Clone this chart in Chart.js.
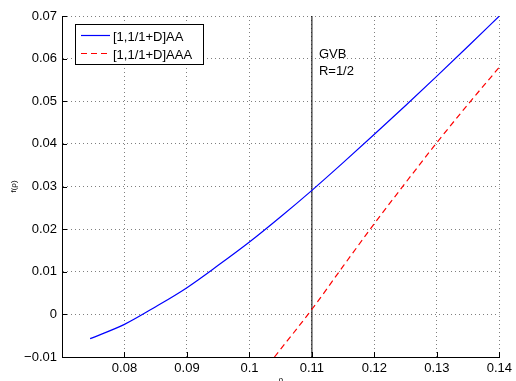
<!DOCTYPE html>
<html>
<head>
<meta charset="utf-8">
<script src="https://cdn.jsdelivr.net/npm/chart.js@4/dist/chart.umd.min.js"></script>
<style>
html,body{margin:0;padding:0;background:#fff;}
canvas{display:block;}
</style>
</head>
<body>
<canvas id="c" width="516" height="381"></canvas>
<script>
// ---- data ----
const seriesNames = ["[1,1/1+D]AA", "[1,1/1+D]AAA"];
const seriesColors = ["#0000ff", "#ff0000"];
const aaX = [0.0745, 0.08, 0.085, 0.09, 0.095, 0.10, 0.105, 0.11, 0.115, 0.12, 0.125, 0.13, 0.135, 0.14];
const aaY = [-0.0057, -0.00235, 0.0018, 0.00627, 0.0115, 0.01697, 0.0229, 0.0291, 0.0356, 0.04225, 0.0490, 0.0559, 0.0629, 0.0700];
const aaaX = [0.104, 0.11, 0.115, 0.12, 0.125, 0.13, 0.135, 0.14];
const aaaY = [-0.0100, 0.0012, 0.0113, 0.0213, 0.0309, 0.0403, 0.0493, 0.0580];
const gvbX = 0.11;
const gvbLabel = ["GVB", "R=1/2"];
const xTicks = [0.07, 0.08, 0.09, 0.10, 0.11, 0.12, 0.13, 0.14];
const yTicks = [-0.01, 0, 0.01, 0.02, 0.03, 0.04, 0.05, 0.06, 0.07];
const yTitle = "f(\u03C1)";
const xTitle = "\u03C1";

const FONT = "'Liberation Sans', Arial, Helvetica, sans-serif";
const pts = (xs, ys) => xs.map((x, i) => ({x: x, y: ys[i]}));
const fmt = v => Number(v.toFixed(2)).toString().replace('-', '\u2212');

const overlay = {
  id: 'overlay',
  afterDatasetsDraw(chart) {
    const ctx = chart.ctx, a = chart.chartArea;
    const xs = chart.scales.x, ys = chart.scales.y;
    ctx.save();
    ctx.setLineDash([]);
    // inward tick marks
    ctx.strokeStyle = '#000'; ctx.lineWidth = 1;
    ctx.beginPath();
    yTicks.forEach(v => { const y = Math.round(ys.getPixelForValue(v)) + 0.5; ctx.moveTo(a.left, y); ctx.lineTo(a.left + 5, y); });
    xTicks.forEach(v => { const x = Math.round(xs.getPixelForValue(v)) + 0.5; ctx.moveTo(x, a.bottom); ctx.lineTo(x, a.bottom - 5); });
    ctx.stroke();
    // GVB annotation
    ctx.fillStyle = '#000';
    ctx.font = '13px ' + FONT;
    ctx.textBaseline = 'alphabetic'; ctx.textAlign = 'left';
    const gx = xs.getPixelForValue(gvbX) + 7;
    ctx.fillText(gvbLabel[0], gx, 58);
    ctx.fillText(gvbLabel[1], gx, 75);
    // legend box
    const lx = 75.5, ly = 24.5, lw = 128, lh = 40;
    ctx.fillStyle = '#fff';
    ctx.fillRect(lx, ly, lw, lh);
    ctx.strokeStyle = '#000';
    ctx.strokeRect(lx, ly, lw, lh);
    const ds = chart.data.datasets;
    const rows = [{y: 35, base: 41}, {y: 53, base: 58.5}];
    [0, 1].forEach(i => {
      ctx.beginPath();
      ctx.lineWidth = 1.2;
      ctx.strokeStyle = seriesColors[i];
      ctx.setLineDash(ds[i].borderDash || []);
      ctx.moveTo(81, rows[i].y + 0.5); ctx.lineTo(110, rows[i].y + 0.5);
      ctx.stroke();
      ctx.setLineDash([]);
      ctx.fillStyle = '#000';
      ctx.fillText(ds[i].label, 113, rows[i].base);
    });
    // axis titles
    ctx.font = '8px ' + FONT;
    ctx.save();
    ctx.translate(16, (a.top + a.bottom) / 2);
    ctx.rotate(-Math.PI / 2);
    ctx.textAlign = 'center'; ctx.textBaseline = 'alphabetic';
    ctx.fillText(yTitle, 0, 0);
    ctx.restore();
    ctx.textAlign = 'center'; ctx.textBaseline = 'top';
    ctx.fillText(xTitle, (a.left + a.right) / 2, 376);
    ctx.restore();
  }
};

new Chart(document.getElementById('c'), {
  type: 'line',
  data: {
    datasets: [
      {label: seriesNames[0], data: pts(aaX, aaY), borderColor: seriesColors[0], borderWidth: 1.2, pointRadius: 0, tension: 0.4, cubicInterpolationMode: 'monotone', fill: false},
      {label: seriesNames[1], data: pts(aaaX, aaaY), borderColor: seriesColors[1], borderWidth: 1.2, borderDash: [6, 4], pointRadius: 0, tension: 0.4, cubicInterpolationMode: 'monotone', fill: false},
      {label: 'GVB', data: [{x: gvbX, y: yTicks[0]}, {x: gvbX, y: yTicks[yTicks.length - 1]}], borderColor: '#000', borderWidth: 1, pointRadius: 0, fill: false}
    ]
  },
  options: {
    responsive: false,
    animation: false,
    devicePixelRatio: 1,
    layout: {padding: {top: 16, right: 13, left: 0, bottom: 0}},
    plugins: {legend: {display: false}, tooltip: {enabled: false}},
    scales: {
      x: {
        type: 'linear', min: xTicks[0], max: xTicks[xTicks.length - 1],
        afterBuildTicks: s => { s.ticks = xTicks.map(v => ({value: v})); },
        afterFit: s => { s.height = 24; },
        ticks: {color: '#000', padding: 4, font: {family: FONT, size: 13}, maxRotation: 0, autoSkip: false,
          callback: v => (Math.abs(v - xTicks[0]) < 1e-9 ? '' : fmt(v))},
        grid: {color: 'rgba(0,0,0,0.5)', lineWidth: 1, drawTicks: false},
        border: {display: true, color: '#000', width: 1, dash: [1, 3]}
      },
      y: {
        type: 'linear', min: yTicks[0], max: yTicks[yTicks.length - 1],
        afterBuildTicks: s => { s.ticks = yTicks.map(v => ({value: v})); },
        afterFit: s => { s.width = 62; },
        ticks: {color: '#000', padding: 5, font: {family: FONT, size: 13}, autoSkip: false, callback: v => fmt(v)},
        grid: {color: 'rgba(0,0,0,0.5)', lineWidth: 1, drawTicks: false},
        border: {display: true, color: '#000', width: 1, dash: [1, 3]}
      }
    }
  },
  plugins: [overlay]
});
</script>
</body>
</html>
